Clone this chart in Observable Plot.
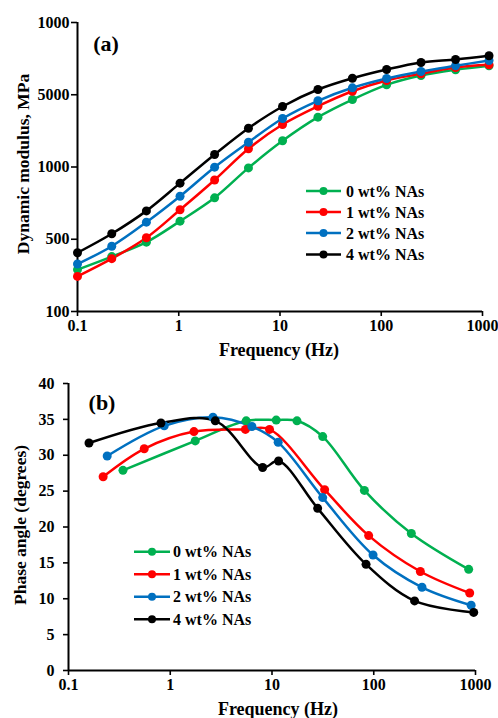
<!DOCTYPE html>
<html><head><meta charset="utf-8">
<script src="https://cdn.jsdelivr.net/npm/d3@7"></script>
<script src="https://cdn.jsdelivr.net/npm/@observablehq/plot@0.6"></script>
<style>
body{margin:0;background:#fff;}
#root{position:relative;width:498px;height:718px;overflow:hidden;}
#root svg.plotsvg{display:block;}
#overlay{position:absolute;left:0;top:0;pointer-events:none;}
</style></head><body><div id="root"></div>
<script>
// ---------- shared ----------
const seriesNames = ["0 wt% NAs", "1 wt% NAs", "2 wt% NAs", "4 wt% NAs"];
const seriesColors = ["#00B050", "#FF0000", "#0070C0", "#000000"];
const xTicks = [0.1, 1, 10, 100, 1000];
const xTickLabels = ["0.1", "1", "10", "100", "1000"];

// ---------- panel (a): dynamic modulus ----------
const freqA = [0.1, 0.218, 0.479, 1.03, 2.26, 4.88, 10.6, 23.7, 51.9, 113, 247, 542, 1160];
const modulus0 = [195, 240, 302, 422, 612, 986, 1518, 2213, 2931, 3704, 4297, 4706, 5013];
const modulus1 = [175, 232, 324, 506, 813, 1336, 1968, 2635, 3346, 3969, 4416, 4885, 5098];
const modulus2 = [213, 283, 415, 628, 997, 1484, 2166, 2872, 3532, 4096, 4580, 5017, 5458];
const modulus4 = [255, 345, 497, 773, 1221, 1855, 2622, 3437, 4117, 4730, 5288, 5546, 5885];
const yTicksA = [100, 316.23, 1000, 3162.3, 10000];
const yTickLabelsA = ["100", "500", "1000", "5000", "1000"];

// ---------- panel (b): phase angle ----------
const freqB0 = [0.343, 1.76, 5.58, 11.0, 17.6, 31.5, 80.9, 234, 857];
const phase0 = [27.9, 32.0, 34.8, 34.9, 34.8, 32.6, 25.1, 19.1, 14.1];
const freqB1 = [0.219, 0.555, 1.71, 5.48, 9.46, 32.9, 89.1, 287, 877];
const phase1 = [27.0, 30.9, 33.3, 33.6, 33.6, 25.2, 18.8, 13.8, 10.8];
const freqB2 = [0.240, 0.873, 2.63, 6.35, 11.5, 31.5, 98.4, 298, 906];
const phase2 = [29.9, 34.1, 35.3, 34.0, 31.8, 24.1, 16.1, 11.6, 9.1];
const freqB4 = [0.159, 0.81, 2.77, 8.09, 11.6, 28.1, 84, 252, 960];
const phase4 = [31.7, 34.5, 34.8, 28.3, 29.2, 22.6, 14.8, 9.7, 8.1];
const yTicksB = [0, 5, 10, 15, 20, 25, 30, 35, 40];

// ---------- build rows ----------
const modA = [modulus0, modulus1, modulus2, modulus4];
const rowsA = [];
modA.forEach((arr, i) => arr.forEach((v, j) => rowsA.push({series: seriesNames[i], f: freqA[j], v})));
const fB = [freqB0, freqB1, freqB2, freqB4];
const pB = [phase0, phase1, phase2, phase4];
const rowsB = [];
pB.forEach((arr, i) => arr.forEach((v, j) => rowsB.push({series: seriesNames[i], f: fB[i][j], v})));

const font = "'Liberation Serif', 'Times New Roman', serif";
const baseStyle = {fontFamily: font, fontSize: "16px", fontWeight: "bold", background: "transparent", overflow: "visible", color: "#000"};

const plotA = Plot.plot({
  width: 498, height: 365,
  marginLeft: 77, marginRight: 16, marginTop: 22, marginBottom: 54,
  style: baseStyle,
  x: {type: "log", domain: [0.1, 1000]},
  y: {type: "log", domain: [100, 10000]},
  color: {domain: seriesNames, range: seriesColors},
  marks: [
    Plot.axisX({ticks: xTicks, tickFormat: d => xTickLabels[xTicks.indexOf(d)], tickSize: 5, tickPadding: 3, label: null, strokeWidth: 1.6}),
    Plot.axisY({ticks: yTicksA, tickFormat: d => yTickLabelsA[yTicksA.indexOf(d)], tickSize: 6, tickPadding: 2, label: null, strokeWidth: 1.6}),
    Plot.ruleY([100], {strokeWidth: 2}),
    Plot.ruleX([0.1], {strokeWidth: 2}),
    Plot.line(rowsA, {x: "f", y: "v", z: "series", stroke: "series", strokeWidth: 2.5, curve: "catmull-rom"}),
    Plot.dot(rowsA, {x: "f", y: "v", fill: "series", r: 4.5})
  ]
});

const plotB = Plot.plot({
  width: 498, height: 353,
  marginLeft: 68, marginRight: 23, marginTop: 18, marginBottom: 48,
  style: baseStyle,
  x: {type: "log", domain: [0.1, 1000]},
  y: {domain: [0, 40]},
  color: {domain: seriesNames, range: seriesColors},
  marks: [
    Plot.axisX({ticks: xTicks, tickFormat: d => xTickLabels[xTicks.indexOf(d)], tickSize: 5, tickPadding: 3, label: null, strokeWidth: 1.6}),
    Plot.axisY({ticks: yTicksB, tickFormat: d => String(d), tickSize: 5, tickPadding: 9, label: null, strokeWidth: 1.6}),
    Plot.ruleY([0], {strokeWidth: 2}),
    Plot.ruleX([0.1], {strokeWidth: 2}),
    Plot.line(rowsB, {x: "f", y: "v", z: "series", stroke: "series", strokeWidth: 2.5, curve: "catmull-rom"}),
    Plot.dot(rowsB, {x: "f", y: "v", fill: "series", r: 4.5})
  ]
});

const root = document.getElementById("root");
plotA.classList.add("plotsvg");
plotB.classList.add("plotsvg");
root.appendChild(plotA);
root.appendChild(plotB);

// ---------- overlay: titles, panel letters, legends ----------
const ov = d3.select(root).append("svg").attr("id", "overlay")
  .attr("width", 498).attr("height", 718)
  .style("font-family", font).style("font-weight", "bold");

function txt(x, y, s, size, rot) {
  const t = ov.append("text").attr("x", 0).attr("y", 0)
    .attr("text-anchor", "middle").attr("dy", "0.35em")
    .attr("font-size", size).attr("fill", "#000").text(s);
  t.attr("transform", `translate(${x},${y})` + (rot ? ` rotate(${rot})` : ""));
}
txt(279, 350, "Frequency (Hz)", 18);
txt(278, 709, "Frequency (Hz)", 18);
txt(22.5, 164, "Dynamic modulus, MPa", 17.5, -90);
txt(20, 525, "Phase angle (degrees)", 17.5, -90);
txt(106, 43, "(a)", 22);
txt(102, 402, "(b)", 22);

function legend(x0, x1, xt, ys) {
  seriesNames.forEach((name, i) => {
    const y = ys[i];
    ov.append("line").attr("x1", x0).attr("x2", x1).attr("y1", y).attr("y2", y)
      .attr("stroke", seriesColors[i]).attr("stroke-width", 2.5);
    ov.append("circle").attr("cx", (x0 + x1) / 2).attr("cy", y).attr("r", 4).attr("fill", seriesColors[i]);
    ov.append("text").attr("x", xt).attr("y", y).attr("dy", "0.35em")
      .attr("font-size", 16).attr("fill", "#000").text(name);
  });
}
legend(306, 341, 346, [191, 212, 233, 254.5]);
legend(134, 170, 173, [551.7, 574.3, 596.7, 619.3]);
</script></body></html>
